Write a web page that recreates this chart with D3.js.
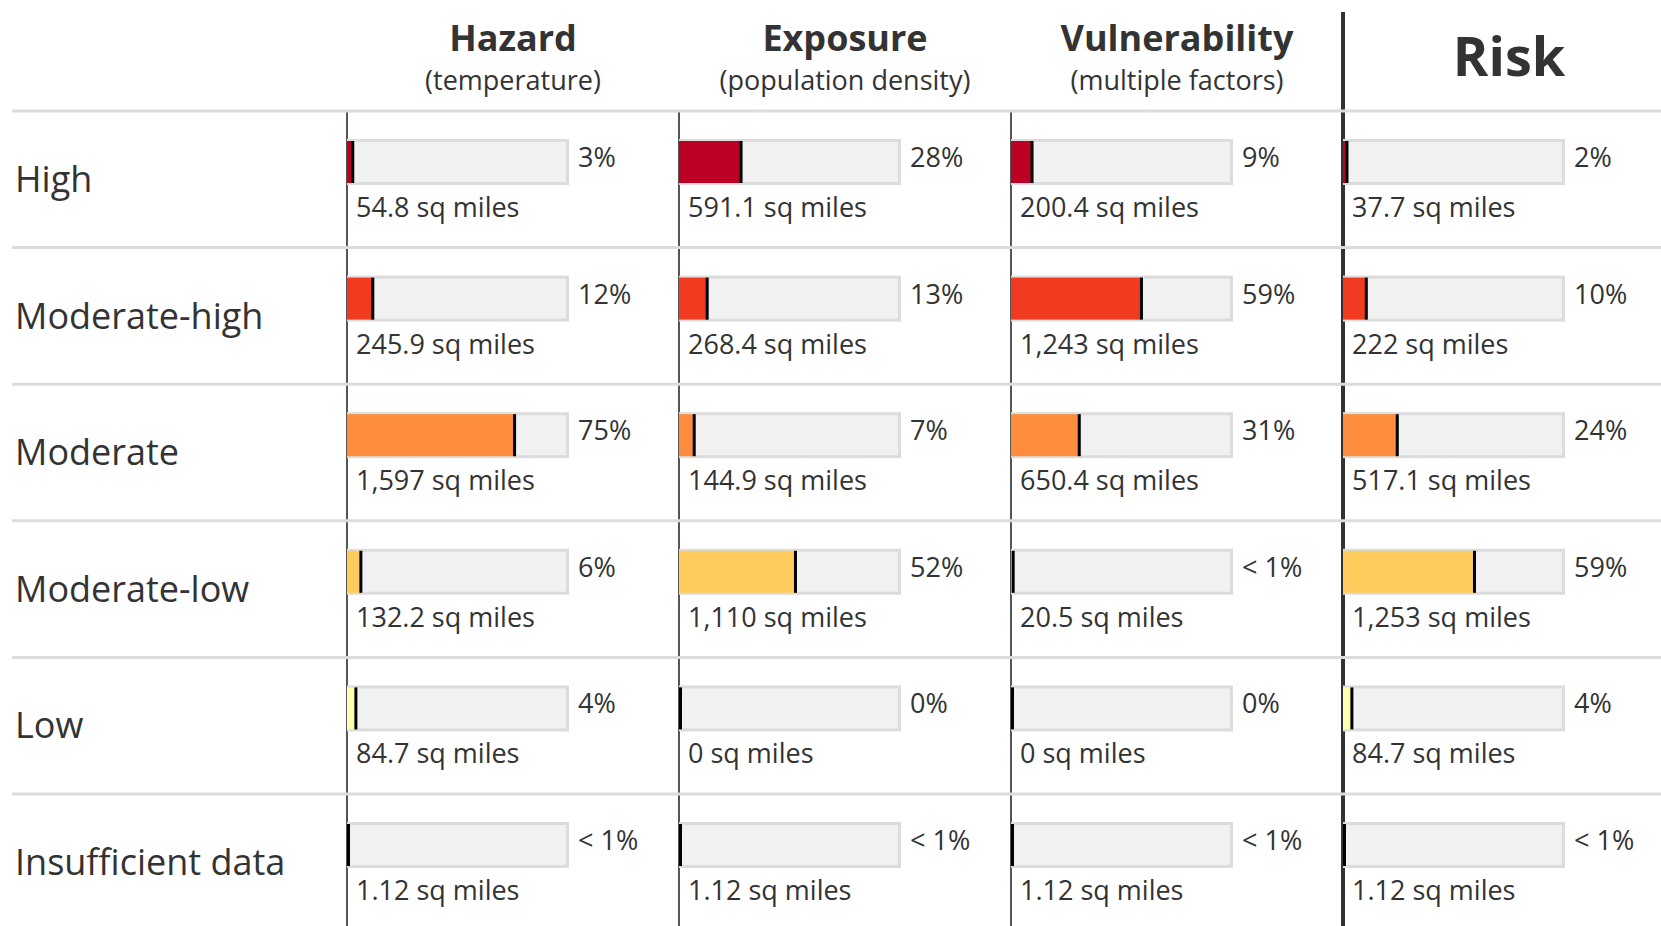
<!DOCTYPE html>
<html>
<head>
<meta charset="utf-8">
<script src="https://cdn.jsdelivr.net/npm/d3@7"></script>
<style>
  html, body { margin: 0; padding: 0; background: #fff; overflow: hidden; }
  svg { display: block; font-family: "Open Sans", sans-serif; }
</style>
</head>
<body>
<svg id="chart" width="1661" height="926"></svg>
<script>
// ---- data ----
const categories = ["High", "Moderate-high", "Moderate", "Moderate-low", "Low", "Insufficient data"];
const columns = ["Hazard", "Exposure", "Vulnerability", "Risk"];
const subtitles = ["(temperature)", "(population density)", "(multiple factors)", ""];
const categoryColors = ["#bd0026", "#f03b20", "#fd8d3c", "#fecc5c", "#ffffb2", "#000000"];

const hazardArea        = [54.8, 245.9, 1597, 132.2, 84.7, 1.12];
const exposureArea      = [591.1, 268.4, 144.9, 1110, 0, 1.12];
const vulnerabilityArea = [200.4, 1243, 650.4, 20.5, 0, 1.12];
const riskArea          = [37.7, 222, 517.1, 1253, 84.7, 1.12];

const hazardPct        = ["3%", "12%", "75%", "6%", "4%", "< 1%"];
const exposurePct      = ["28%", "13%", "7%", "52%", "0%", "< 1%"];
const vulnerabilityPct = ["9%", "59%", "31%", "< 1%", "0%", "< 1%"];
const riskPct          = ["2%", "10%", "24%", "59%", "4%", "< 1%"];

const areas = [hazardArea, exposureArea, vulnerabilityArea, riskArea];
const pcts = [hazardPct, exposurePct, vulnerabilityPct, riskPct];

// ---- layout ----
const W = 1661, H = 926;
const headerY = 111, rowStep = 136.6, colStep = 332, colStart = 347;
const barW = 222, barTop = 28, barH = 46;

const svg = d3.select("#chart");
const y = d3.scaleBand().domain(categories).range([headerY, headerY + rowStep * categories.length]).padding(0);
const x = d3.scaleBand().domain(columns).range([colStart, colStart + colStep * columns.length]).padding(0);
const fmt = d3.format(",");

const textColor = "#333";

// column headers
const hdr = svg.append("g");
columns.forEach((c, i) => {
  const cx = x(c) + 166;
  if (c === "Risk") {
    hdr.append("text").attr("x", cx).attr("y", 76).attr("text-anchor", "middle")
      .attr("font-size", 54).attr("font-weight", 700).attr("fill", textColor).text(c);
  } else {
    hdr.append("text").attr("x", cx).attr("y", 51).attr("text-anchor", "middle")
      .attr("font-size", 36).attr("font-weight", 700).attr("fill", textColor).text(c);
    hdr.append("text").attr("x", cx).attr("y", 90).attr("text-anchor", "middle")
      .attr("font-size", 27).attr("fill", textColor).text(subtitles[i]);
  }
});

// vertical column lines
columns.forEach(c => {
  const isRisk = c === "Risk";
  svg.append("line")
    .attr("x1", x(c)).attr("x2", x(c))
    .attr("y1", isRisk ? 12 : headerY).attr("y2", H)
    .attr("stroke", isRisk ? "#333" : "#555")
    .attr("stroke-width", isRisk ? 4 : 2);
});

// horizontal separators (header line + row lines)
const seps = [headerY].concat(categories.slice(1).map(c => y(c)));
svg.selectAll("line.sep").data(seps).enter().append("line")
  .attr("class", "sep")
  .attr("x1", 12).attr("x2", W)
  .attr("y1", d => d).attr("y2", d => d)
  .attr("stroke", "#dcdcdc").attr("stroke-width", 3);

// row labels
svg.selectAll("text.rowlab").data(categories).enter().append("text")
  .attr("class", "rowlab")
  .attr("x", 15).attr("y", d => y(d) + 81)
  .attr("font-size", 36).attr("fill", textColor).text(d => d);

// cells
columns.forEach((c, ci) => {
  const total = d3.sum(areas[ci]);
  const w = d3.scaleLinear().domain([0, total]).range([0, barW]);
  const cells = svg.append("g").selectAll("g").data(categories).enter().append("g")
    .attr("transform", d => `translate(${x(c)},${y(d)})`);

  // background bar
  cells.append("rect")
    .attr("x", 1.5).attr("y", barTop + 1.5)
    .attr("width", barW - 3).attr("height", barH - 3)
    .attr("fill", "#f1f1f1").attr("stroke", "#dcdcdc").attr("stroke-width", 3);

  // value fill
  cells.append("rect")
    .attr("x", 0).attr("y", barTop + 2)
    .attr("width", (d, i) => w(areas[ci][i]))
    .attr("height", barH - 4)
    .attr("fill", (d, i) => categoryColors[i]);

  // end marker
  cells.append("rect")
    .attr("x", (d, i) => Math.max(0, w(areas[ci][i]) - 1.5))
    .attr("y", barTop + 2)
    .attr("width", 3).attr("height", barH - 4)
    .attr("fill", "#000");

  // percent label
  cells.append("text")
    .attr("x", barW + 9).attr("y", 56)
    .attr("font-size", 27).attr("fill", textColor)
    .text((d, i) => pcts[ci][i]);

  // area label
  cells.append("text")
    .attr("x", 9).attr("y", 106)
    .attr("font-size", 27).attr("fill", textColor)
    .text((d, i) => fmt(areas[ci][i]) + " sq miles");
});
</script>
</body>
</html>
